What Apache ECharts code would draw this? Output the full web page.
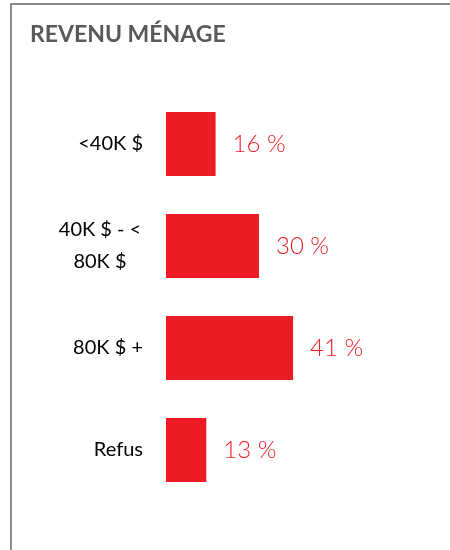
<!DOCTYPE html>
<html>
<head>
    <meta charset="UTF-8">
    <title>Revenu ménage</title>
    <style>
        *{
            margin: 0;
            padding: 0;
        }
        body{
            width: 450px;
            height: 550px;
            overflow: hidden;
            background: #fff;
        }
        .panel{
            position: absolute;
            left: 10px;
            top: 3px;
            width: 460px;
            height: 570px;
            border: 2px solid #8c8c8c;
            box-shadow: 2px 2px 4px rgba(0,0,0,0.15);
        }
        .container{
            position: absolute;
            left: 0;
            top: 0;
            width: 450px;
            height: 550px;
        }
    </style>
    <script src="https://cdn.jsdelivr.net/npm/echarts@6/dist/echarts.min.js"></script>
</head>
<body>
<div class="panel"></div>
<div class="container"></div>
<script>
    // données
    let categories=['<40K $','40K $ - <\n80K $','80K $ +','Refus']
    let values=[16,30,41,13]

    let red='#ed1c24'
    let container=document.querySelector('.container')
    let mychart=echarts.init(container)

    let option={
        textStyle:{
            fontFamily:'Lato'
        },
        title:{
            text:'REVENU MÉNAGE',
            left:25,
            top:18,
            textStyle:{
                fontFamily:'Lato',
                fontSize:23,
                fontWeight:'bold',
                color:'#595959'
            }
        },
        grid:{
            left:166,
            top:93,
            width:186,
            height:408
        },
        xAxis:{
            type:'value',
            min:0,
            max:60,
            show:false
        },
        yAxis:{
            type:'category',
            data:categories,
            inverse:true,
            axisLine:{show:false},
            axisTick:{show:false},
            axisLabel:{
                margin:23,
                fontSize:20,
                color:'#000',
                lineHeight:32,
                formatter:function(v){
                    if(v.indexOf('\n')>-1){
                        return v.split('\n').map(s=>'{c|'+s+'}').join('\n')
                    }
                    return v
                },
                rich:{
                    c:{
                        width:86,
                        align:'center',
                        fontSize:20,
                        lineHeight:32,
                        color:'#000',
                        fontFamily:'Lato'
                    }
                }
            }
        },
        series:[{
            type:'bar',
            data:values,
            barWidth:64,
            itemStyle:{color:red},
            label:{
                show:true,
                position:'right',
                distance:17,
                formatter:'{c} %',
                fontSize:24,
                fontWeight:300,
                color:red
            }
        }]
    }
    mychart.setOption(option)
</script>
</body>
</html>
